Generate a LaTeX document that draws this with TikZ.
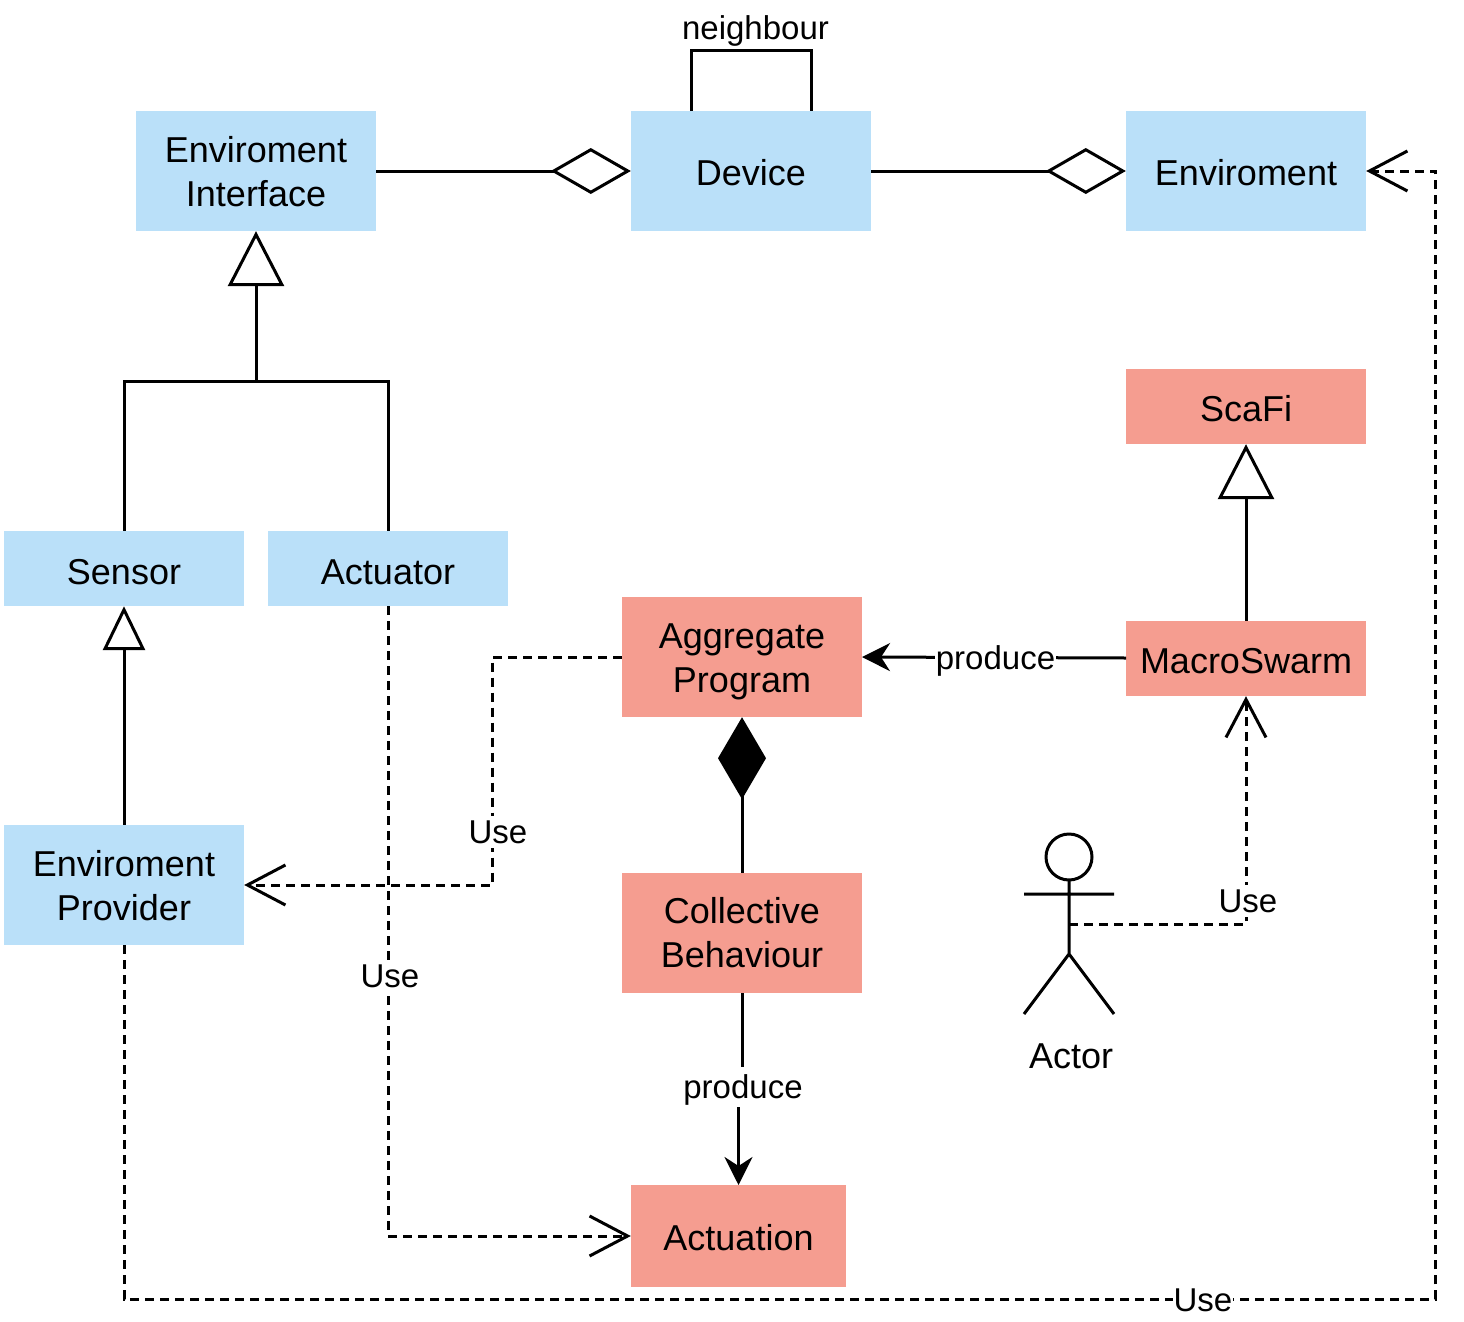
\documentclass[tikz,border=0pt]{standalone}
\usepackage{fontspec}
\setmainfont{Liberation Sans}
\usetikzlibrary{arrows.meta,calc}
\definecolor{bluebox}{HTML}{BAE0F9}
\definecolor{redbox}{HTML}{F59D90}
\newcommand{\dn}[2]{\raisebox{-#1pt}[\height][\depth]{#2}}
\tikzset{
  x=1pt,y=-1pt,
  boxfont/.style={font=\fontsize{36}{44}\selectfont},
  labfont/.style={font=\fontsize{33}{44}\selectfont},
  bluenode/.style={rectangle,fill=bluebox,inner sep=0pt,align=center,boxfont},
  rednode/.style={rectangle,fill=redbox,inner sep=0pt,align=center,boxfont},
  conn/.style={line width=3pt,black},
  dash3/.style={conn,dash pattern=on 9pt off 6pt},
  gen/.style={conn,-{Triangle[open,fill=white,length=55pt,width=56pt,line width=3pt]}},
  gensmall/.style={conn,-{Triangle[open,fill=white,length=44pt,width=42pt,line width=3pt]}},
  agg/.style={conn,-{Diamond[open,fill=white,length=80pt,width=46pt,line width=3pt]}},
  comp/.style={conn,-{Diamond[length=82pt,width=48pt]}},
  dep/.style={dash3,-{Straight Barb[length=38pt,width=40pt,line width=3pt]}},
  prod/.style={conn,-{Stealth[length=28pt,width=28pt,inset=9pt]}},
  lab/.style={fill=white,inner xsep=1pt,inner ysep=4pt,labfont},
}
\begin{document}
\begin{tikzpicture}
\useasboundingbox (0,0) rectangle (1464,1322);
% blue
\node[bluenode,minimum width=240pt,minimum height=120pt] (iface) at (256,171) {\dn{1}{Enviroment}\\\dn{1}{Interface}};
\node[bluenode,minimum width=240pt,minimum height=120pt] (device) at (751,171) {\dn{2}{Device}};
\node[bluenode,minimum width=240pt,minimum height=120pt] (env) at (1246,171) {\dn{2}{Enviroment}};
\node[bluenode,minimum width=240pt,minimum height=75pt] (sensor) at (124,568.5) {\dn{3.5}{Sensor}};
\node[bluenode,minimum width=240pt,minimum height=75pt] (actuator) at (388,568.5) {\dn{3.5}{Actuator}};
\node[bluenode,minimum width=240pt,minimum height=120pt] (provider) at (124,885) {\dn{1}{Enviroment}\\\dn{1}{Provider}};
% red
\node[rednode,minimum width=240pt,minimum height=75pt] (scafi) at (1246,406.5) {\dn{2.5}{ScaFi}};
\node[rednode,minimum width=240pt,minimum height=75pt] (macro) at (1246,658.5) {\dn{3}{MacroSwarm}};
\node[rednode,minimum width=240pt,minimum height=120pt] (program) at (742,657) {\dn{5}{Aggregate}\\\dn{5}{Program}};
\node[rednode,minimum width=240pt,minimum height=120pt] (behaviour) at (742,933) {Collective\\Behaviour};
\node[rednode,minimum width=215pt,minimum height=102pt] (actuation) at (738.5,1236) {\dn{2}{Actuation}};
% actor
\coordinate (actorhip) at (1069,924);
\draw[line width=3pt] (1069,857) circle (23);
\draw[line width=3pt] (1069,880) -- (1069,954) (1024,894) -- (1114,894) (1024,1014) -- (1069,954) -- (1114,1014);
\node[boxfont] (actorlabel) at (1071,1056) {Actor};
% connectors
\draw[agg] (iface.east) -- (device.west);
\draw[agg] (device.east) -- (env.west);
\coordinate (nl) at (691,51); \coordinate (nr) at (811,51);
\coordinate (nls) at (691,111); \coordinate (nrs) at (811,111);
\draw[conn] (nls) -- (nl) -- (nr) -- (nrs);
\node[labfont] (neigh) at (755.5,31) {neighbour};
\coordinate (junction) at (256,381);
\draw[conn] (sensor.north) |- (junction);
\draw[conn] (actuator.north) |- (junction);
\draw[gen] (junction) -- (iface.south);
\draw[gensmall] (provider.north) -- (sensor.south);
\draw[gen] (macro.north) -- (scafi.south);
\draw[comp] (behaviour.north) -- (program.south);
\coordinate (macrow) at (1126,658); \coordinate (progE) at (862,657);
\draw[prod] (macrow) -- (progE);
\node[labfont,fill=white,inner xsep=1pt,inner ysep=0pt] (l1) at (995.5,661) {produce};
\coordinate (behS) at (742,993);\coordinate (behT) at (742,1067);\coordinate (behU) at (738.5,1107);\coordinate (actN) at (738.5,1185);
\draw[conn] (behS) -- (behT);
\draw[prod] (behU) -- (actN);
\node[labfont,inner sep=0pt] (l2) at (743,1090) {produce};
% dashed
\coordinate (pa) at (492.5,657);\coordinate (pb) at (492.5,885);
\draw[dep] (program.west) -- (pa) -- (pb) -- (provider.east);
\node[lab] (l3) at (498,832) {Use};
\coordinate (ab) at (388,1236);
\draw[dep] (actuator.south) -- (ab) -- (actuation.west);
\node[lab] (l4) at (390,976) {Use};
\coordinate (ma) at (1246,924);
\draw[dep] (actorhip) -- (ma) -- (macro.south);
\node[lab] (l5) at (1248,901) {Use};
\coordinate (pc) at (124,1299);\coordinate (pd) at (1435.5,1299);\coordinate (pe) at (1435.5,171);
\draw[dep] (provider.south) -- (pc) -- (pd) -- (pe) -- (env.east);
\node[lab] (l6) at (1203,1300) {Use};
\end{tikzpicture}
\end{document}
